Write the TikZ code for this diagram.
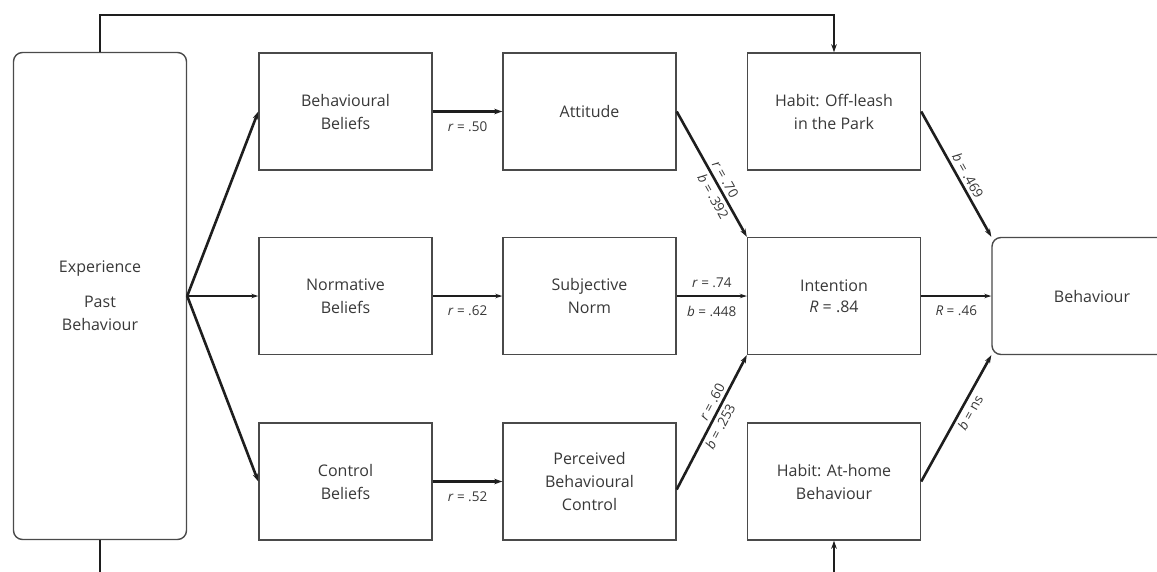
\documentclass[tikz,border=0pt]{standalone}
\usepackage{fontspec}
\setmainfont{Open Sans}
\usetikzlibrary{arrows.meta}
\definecolor{boxgray}{HTML}{4A4A4A}
\definecolor{txtgray}{HTML}{383838}
\definecolor{linecol}{HTML}{1E1E1E}
\begin{document}
\begin{tikzpicture}[x=1pt,y=-1pt,
  box/.style={draw=boxgray, line width=1.4pt, minimum width=173pt, minimum height=117pt, inner sep=2pt, align=center, font=\fontsize{16}{23}\selectfont, text=txtgray},
  rbox/.style={box, rounded corners=9pt},
  strongarrow/.style={draw=linecol, line width=2.6pt, -{Stealth[length=8pt,width=5.5pt]}},
  lightarrow/.style={draw=linecol, line width=1.7pt, -{Stealth[length=7pt,width=4.5pt]}},
  lab/.style={font=\fontsize{13.5}{15}\selectfont, text=txtgray, inner sep=3pt}
]
\useasboundingbox (0,0) rectangle (1157,571);
\clip (0,0) rectangle (1157,571);

% boxes
\node[rbox, minimum width=173pt, minimum height=487pt] (exp) at (100,296) {Experience\\[12pt]Past\\Behaviour};
\node[box] (bb) at (345.5,111.5) {Behavioural\\Beliefs};
\node[box] (att) at (589.5,111.5) {Attitude};
\node[box] (hab1) at (834,111.5) {Habit: Off-leash\\in the Park};
\node[box] (nb) at (345.5,296) {Normative\\Beliefs};
\node[box] (sn) at (589.5,296) {Subjective\\Norm};
\node[box] (int) at (834,296) {Intention\\[-2pt]\textit{R} = .84};
\node[rbox, minimum width=200pt] (beh) at (1092,296) {Behaviour};
\node[box] (cb) at (345.5,481.5) {Control\\Beliefs};
\node[box] (pbc) at (589.5,481.5) {Perceived\\Behavioural\\Control};
\node[box] (hab2) at (834,481.5) {Habit: At-home\\Behaviour};

% feedback lines
\coordinate (topL) at (100,15);
\coordinate (topR) at (834,15);
\coordinate (botL) at (100,620);
\coordinate (botR) at (834,620);
\draw[strongarrow] (exp.north -| topL) -- (topL) -- (topR) -- (hab1.north);
\draw[strongarrow] (exp.south -| botL) -- (botL) -- (botR) -- (hab2.south);

% fan from experience
\draw[strongarrow] (exp.east) -- (bb.west);
\draw[lightarrow] (exp.east) -- (nb.west);
\draw[strongarrow] (exp.east) -- (cb.west);

% beliefs to constructs
\draw[strongarrow] (bb.east) -- node[lab, below=6pt] {\textit{r} = .50} (att.west);
\draw[lightarrow] (nb.east) -- node[lab, below=6pt] {\textit{r} = .62} (sn.west);
\draw[strongarrow] (cb.east) -- node[lab, below=6pt] {\textit{r} = .52} (pbc.west);

% constructs to intention
\draw[strongarrow] (att.east) -- node[lab, sloped, above, pos=0.58] {\textit{r} = .70}
  node[lab, sloped, below, pos=0.64] {\textit{b} = .392} (int.north west);
\draw[lightarrow] (sn.east) -- node[lab, above=4pt] {\textit{r} = .74}
  node[lab, below=6pt] {\textit{b} = .448} (int.west);
\draw[strongarrow] ([yshift=-8pt]pbc.east) -- node[lab, sloped, above, pos=0.62] {\textit{r} = .60}
  node[lab, sloped, below, pos=0.5] {\textit{b} = .253} (int.south west);

% to behaviour
\draw[strongarrow] (hab1.east) -- node[lab, sloped, above, pos=0.55] {\textit{b} = .469} (beh.north west);
\draw[lightarrow] (int.east) -- node[lab, below=6pt] {\textit{R} = .46} (beh.west);
\draw[strongarrow] (hab2.east) -- node[lab, sloped, below, pos=0.58] {\textit{b} = ns} (beh.south west);
\end{tikzpicture}
\end{document}
